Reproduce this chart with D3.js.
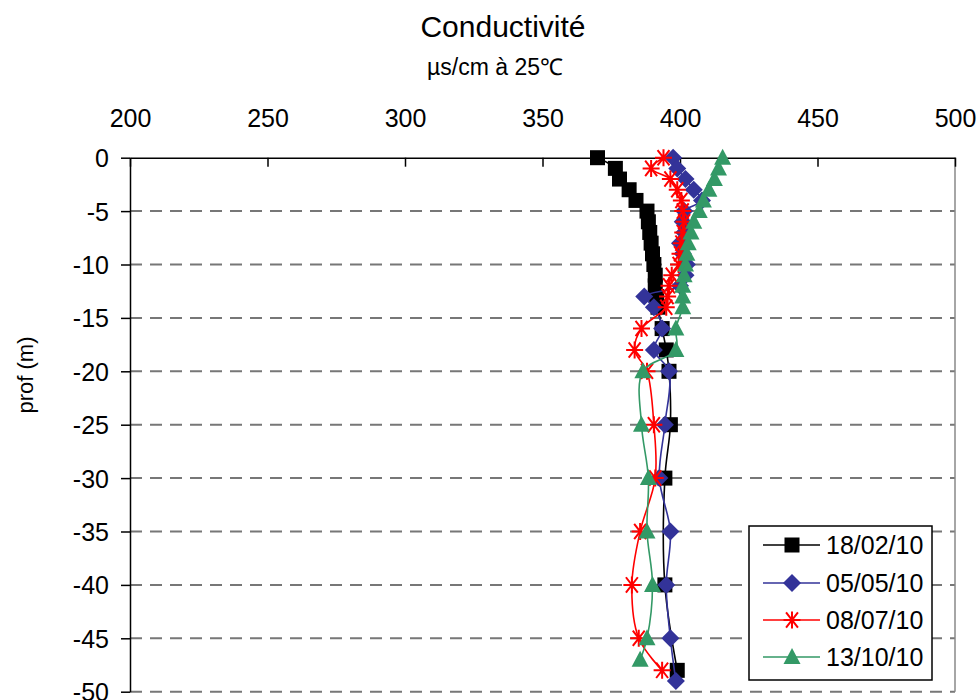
<!DOCTYPE html>
<html>
<head>
<meta charset="utf-8">
<script src="https://cdn.jsdelivr.net/npm/d3@7"></script>
<style>
body { margin: 0; background: #fff; }
text { font-family: "Liberation Sans", Arial, sans-serif; fill: #000; }
</style>
</head>
<body>
<svg id="chart" width="980" height="700"></svg>
<script>
// depths (m) and conductivity values per campaign
var depth1 = [0,1,2,3,4,5,6,7,8,9,10,11,12,13,14,16,18,20,25,30,40,48];
var cond1  = [370,376.5,378,381.5,384,388,388.5,389,389.5,390,390.5,391,391,391.5,392,393.5,395,396,396.5,394.5,394.5,399];

var depth2 = [0,1,2,3,4,5,6,7,8,9,10,11,12,13,14,16,18,20,25,30,35,40,45,49];
var cond2  = [397.5,399,402,405,408,401.5,401,401.5,400,401,402.5,402,400,387,390.5,393.5,390.5,396,394.5,392.5,396.5,395,396.5,398.5];

var depth3 = [0,1,2,3,4,5,6,7,8,9,10,11,12,13,14,16,18,20,25,30,35,40,45,48];
var cond3  = [394,389.5,396.5,399,400.5,401,401.5,401,400.5,400,399.5,397,396,395.5,395,386,383.5,388,390.5,391,385.5,382.5,385,393.5];

var depth4 = [0,1,2,3,4,5,6,7,8,9,10,11,12,13,14,16,18,20,25,30,35,40,45,47];
var cond4  = [415.5,414,412.5,410.5,408.5,407,405,404,403,402.5,402,401.5,401,401,401,398.5,398.5,386.5,386,388.5,388,390,388,385.5];

var seriesNames = ["18/02/10", "05/05/10", "08/07/10", "13/10/10"];
var xTicks = [200,250,300,350,400,450,500];
var yTicks = [0,-5,-10,-15,-20,-25,-30,-35,-40,-45,-50];

var colors = ["#000000", "#333399", "#ff0000", "#339966"];
var markers = ["square", "diamond", "star", "triangle"];

var svg = d3.select("#chart");
var x0 = 130, x1 = 955, y0 = 157.7, y1 = 691.7;

var x = d3.scaleLinear().domain([200, 500]).range([x0, x1]);
var y = d3.scaleLinear().domain([0, -50]).range([y0, y1]);

// titles
svg.append("text").attr("x", 503).attr("y", 37)
    .style("font-size", "30px").style("text-anchor", "middle")
    .text("Conductivité");
svg.append("text").attr("x", 495).attr("y", 75)
    .style("font-size", "23px").style("text-anchor", "middle")
    .text("µs/cm à 25℃");
svg.append("text")
    .attr("transform", "translate(33,375) rotate(-90)")
    .style("font-size", "22px").style("text-anchor", "middle")
    .text("prof (m)");

// grid
svg.append("g").selectAll("line").data(yTicks.filter(function(d) { return d < 0; }))
    .enter().append("line")
    .attr("x1", x0).attr("x2", x1)
    .attr("y1", function(d) { return y(d); }).attr("y2", function(d) { return y(d); })
    .attr("stroke", "#777").attr("stroke-width", 2)
    .attr("stroke-dasharray", "12,8");
svg.append("line").attr("x1", x1).attr("x2", x1).attr("y1", y0).attr("y2", y1)
    .attr("stroke", "#888").attr("stroke-width", 1.5);

// axes
var xAxis = d3.axisTop(x).tickValues(xTicks).tickSizeInner(-9).tickSizeOuter(0)
    .tickFormat(function(d) { return String(d); });
var gx = svg.append("g").attr("transform", "translate(0," + y0 + ")").call(xAxis);
gx.select(".domain").attr("stroke", "#000").attr("stroke-width", 1.5);
gx.selectAll(".tick line").attr("stroke", "#000").attr("stroke-width", 1.5);
gx.selectAll(".tick text").attr("y", -31).attr("dy", 0)
    .style("font-size", "25px").style("font-family", "Liberation Sans, Arial, sans-serif");

var yAxis = d3.axisLeft(y).tickValues(yTicks).tickSizeInner(9).tickSizeOuter(0)
    .tickFormat(function(d) { return String(d); });
var gy = svg.append("g").attr("transform", "translate(" + x0 + ",0)").call(yAxis);
gy.select(".domain").attr("stroke", "#000").attr("stroke-width", 1.5);
gy.selectAll(".tick line").attr("stroke", "#000").attr("stroke-width", 1.5);
gy.selectAll(".tick text").attr("x", -21).attr("dy", "0.36em")
    .style("font-size", "25px").style("font-family", "Liberation Sans, Arial, sans-serif");

function drawmarker(g, kind, color, cx, cy)
{
    if(kind == "square")
        g.append("rect").attr("x", cx-7.5).attr("y", cy-7.5).attr("width", 15).attr("height", 15).attr("fill", color);
    else if(kind == "diamond")
        g.append("path").attr("d", "M" + cx + "," + (cy-9) + "L" + (cx+9) + "," + cy + "L" + cx + "," + (cy+9) + "L" + (cx-9) + "," + cy + "Z").attr("fill", color);
    else if(kind == "triangle")
        g.append("path").attr("d", "M" + cx + "," + (cy-9) + "L" + (cx+8.5) + "," + (cy+7) + "L" + (cx-8.5) + "," + (cy+7) + "Z").attr("fill", color);
    else
    {
        var r = 8.5;
        var p = "M" + (cx-r) + "," + cy + "L" + (cx+r) + "," + cy;
        p += "M" + (cx-r*0.7) + "," + (cy-r*0.9) + "L" + (cx+r*0.7) + "," + (cy+r*0.9);
        p += "M" + (cx-r*0.7) + "," + (cy+r*0.9) + "L" + (cx+r*0.7) + "," + (cy-r*0.9);
        p += "M" + cx + "," + (cy-r) + "L" + cx + "," + (cy+r);
        g.append("path").attr("d", p).attr("stroke", color).attr("stroke-width", 2).attr("fill", "none");
    }
}

var allseries = [[depth1, cond1], [depth2, cond2], [depth3, cond3], [depth4, cond4]];
var line = d3.line()
    .x(function(d) { return x(d[1]); })
    .y(function(d) { return y(-d[0]); })
    .curve(d3.curveCatmullRom.alpha(0.5));

for(var s = 0; s < allseries.length; s++)
{
    var pts = allseries[s][0].map(function(d, i) { return [d, allseries[s][1][i]]; });
    var g = svg.append("g").attr("class", "series");
    g.append("path").datum(pts).attr("d", line)
        .attr("fill", "none").attr("stroke", colors[s]).attr("stroke-width", 1.6);
    for(var i = 0; i < pts.length; i++)
        drawmarker(g, markers[s], colors[s], x(pts[i][1]), y(-pts[i][0]));
}

// legend
var lg = svg.append("g");
lg.append("rect").attr("x", 749).attr("y", 526).attr("width", 183).attr("height", 154)
    .attr("fill", "#fff").attr("stroke", "#000").attr("stroke-width", 1.5);
var legy = [545, 583, 620, 657];
for(var l = 0; l < seriesNames.length; l++)
{
    lg.append("line").attr("x1", 763).attr("x2", 820).attr("y1", legy[l]).attr("y2", legy[l])
        .attr("stroke", colors[l]).attr("stroke-width", 1.6);
    drawmarker(lg, markers[l], colors[l], 792, legy[l]);
    lg.append("text").attr("x", 826).attr("y", legy[l]).attr("dy", "0.36em")
        .style("font-size", "25px").text(seriesNames[l]);
}
</script>
</body>
</html>
